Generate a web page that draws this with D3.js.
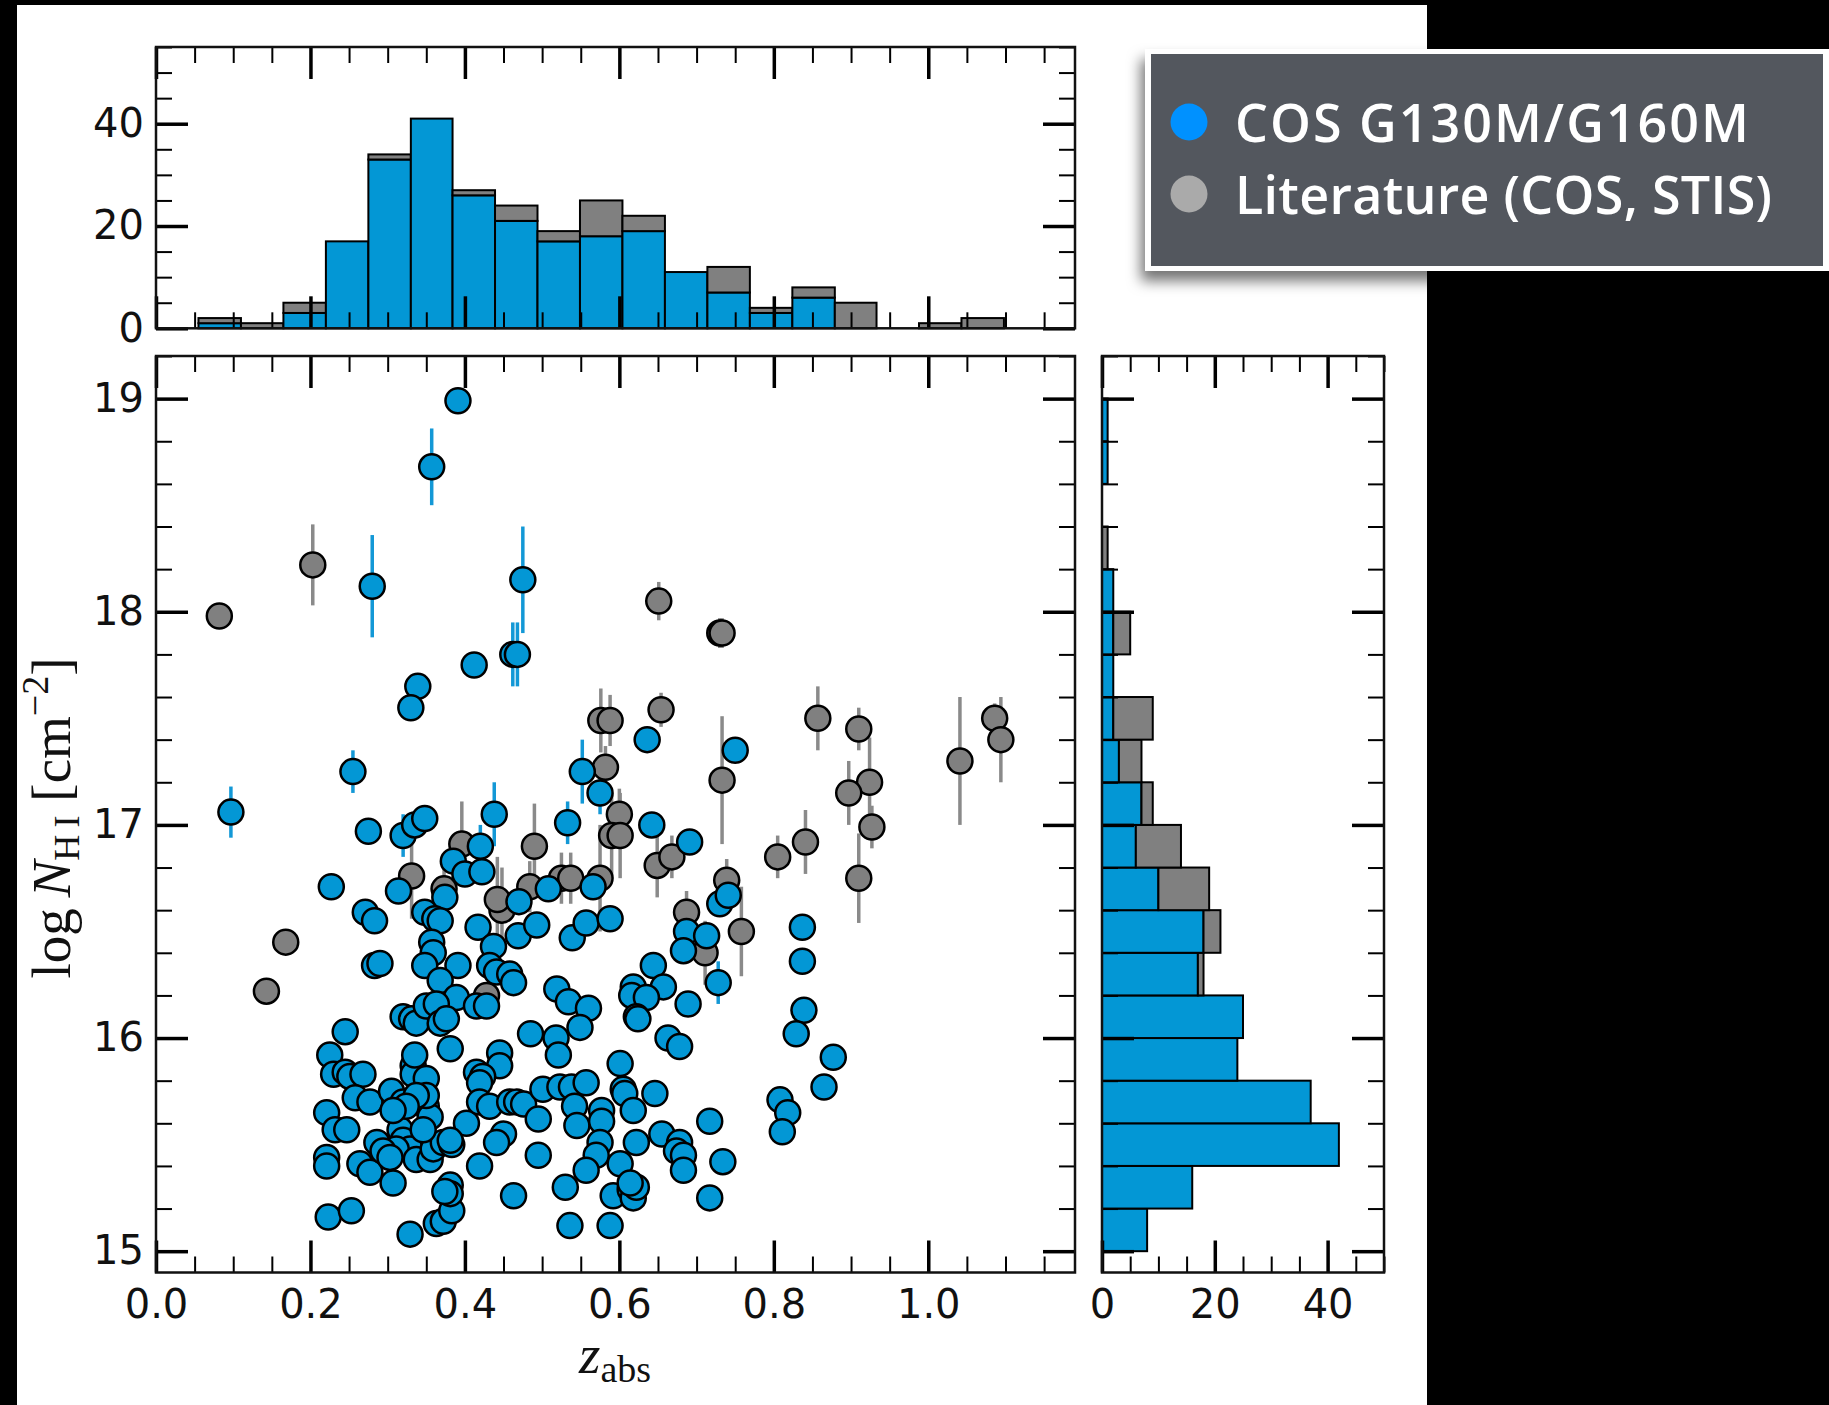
<!DOCTYPE html>
<html>
<head>
<meta charset="utf-8">
<script src="https://cdn.jsdelivr.net/npm/d3@7"></script>
<style>
  html, body { margin: 0; padding: 0; background: #000; }
  svg { display: block; }
</style>
</head>
<body>
<svg id="chart" width="1829" height="1405"></svg>
<script>
// ---------------- DATA ----------------
// redshift histogram (top panel)
const zBinEdges = [0.055,0.110,0.165,0.220,0.275,0.330,0.384,0.439,0.494,0.549,0.604,0.659,0.714,0.769,0.824,0.879,0.933,0.988,1.043,1.098];
const zHistCOS  = [1,0,3,17,33,41,26,21,17,18,19,11,7,3,6,0,0,0,0];
const zHistLit  = [1,1,2,0,1,0,1,3,2,7,3,0,5,1,2,5,0,1,2];

// column density histogram (right panel)
const nBinEdges = [15.0,15.2,15.4,15.6,15.8,16.0,16.2,16.4,16.6,16.8,17.0,17.2,17.4,17.6,17.8,18.0,18.2,18.4,18.6,18.8,19.0];
const nHistCOS  = [8,16,42,37,24,25,17,18,10,6,7,3,2,2,2,2,0,0,1,1];
const nHistLit  = [0,0,0,0,0,0,1,3,9,8,2,4,7,0,3,0,1,0,0,0];

// literature absorbers: [z_abs, logNHI, error]
const litPoints = [
  [0.082,17.98,0],[0.203,18.22,0.19],[0.651,18.05,0.09],[0.730,17.90,0.07],[0.733,17.90,0.07],
  [0.654,17.54,0.08],[0.576,17.49,0.15],[0.588,17.49,0.12],[0.582,17.27,0.10],[0.857,17.50,0.15],
  [0.910,17.45,0.10],[1.086,17.50,0.07],[1.094,17.40,0.20],[1.041,17.30,0.30],[0.733,17.21,0.30],
  [0.924,17.20,0.21],[0.927,16.99,0.10],[0.897,17.15,0.15],[0.910,16.75,0.21],[0.841,16.92,0.15],
  [0.805,16.85,0.10],[0.758,16.50,0.21],[0.649,16.81,0.15],[0.668,16.85,0.10],[0.525,16.75,0.12],
  [0.537,16.75,0.12],[0.575,16.75,0.25],[0.739,16.74,0.10],[0.687,16.59,0.10],[0.711,16.40,0.15],
  [0.484,16.71,0.12],[0.490,16.90,0.20],[0.396,16.91,0.20],[0.331,16.76,0.20],[0.373,16.70,0.10],
  [0.448,16.60,0.20],[0.442,16.65,0.20],[0.428,16.20,0],[0.143,16.22,0],[0.168,16.45,0],
  [0.600,17.05,0.12],[0.590,16.95,0.20],[0.601,16.95,0.20]
];

// COS G130M/G160M absorbers: [z_abs, logNHI, error]
const cosPoints = [
  [0.391,18.99,0],[0.357,18.68,0.18],[0.280,18.12,0.24],[0.475,18.15,0.25],[0.462,17.80,0.15],
  [0.468,17.80,0.15],[0.412,17.75,0],[0.339,17.65,0],[0.330,17.55,0],[0.255,17.25,0.10],
  [0.097,17.06,0.12],[0.636,17.40,0],[0.750,17.35,0],[0.552,17.25,0.15],[0.575,17.15,0.10],
  [0.438,17.05,0.15],[0.533,17.01,0.10],[0.642,17.00,0],[0.275,16.97,0],[0.320,16.95,0.10],
  [0.335,17.00,0],[0.348,17.03,0],[0.691,16.92,0],[0.420,16.90,0.10],[0.385,16.83,0],
  [0.400,16.77,0],[0.422,16.78,0],[0.227,16.71,0],[0.314,16.69,0],[0.374,16.66,0],
  [0.508,16.70,0],[0.566,16.71,0],[0.470,16.64,0],[0.271,16.59,0],[0.283,16.55,0],
  [0.348,16.59,0],[0.361,16.56,0],[0.368,16.55,0],[0.417,16.52,0],[0.437,16.43,0],
  [0.469,16.48,0],[0.493,16.53,0],[0.539,16.47,0],[0.557,16.54,0],[0.588,16.56,0],
  [0.730,16.63,0],[0.741,16.67,0],[0.687,16.50,0],[0.713,16.48,0],[0.683,16.41,0],
  [0.728,16.26,0.10],[0.837,16.52,0],[0.837,16.36,0],[0.839,16.13,0],[0.829,16.02,0],
  [0.877,15.91,0],[0.865,15.77,0],[0.808,15.71,0],[0.818,15.65,0],[0.811,15.56,0],
  [0.357,16.45,0],[0.359,16.40,0],[0.348,16.34,0],[0.283,16.34,0],[0.290,16.35,0],
  [0.391,16.34,0],[0.368,16.27,0],[0.432,16.34,0],[0.441,16.31,0],[0.458,16.30,0],
  [0.463,16.26,0],[0.389,16.19,0],[0.415,16.15,0],[0.428,16.15,0],[0.245,16.03,0],
  [0.320,16.10,0],[0.331,16.09,0],[0.337,16.07,0],[0.350,16.15,0],[0.363,16.16,0],
  [0.368,16.07,0],[0.376,16.09,0],
  [0.644,16.34,0],[0.618,16.24,0],[0.657,16.24,0],[0.519,16.23,0],[0.534,16.17,0],
  [0.560,16.14,0],[0.616,16.20,0],[0.635,16.19,0],[0.689,16.16,0],[0.622,16.10,0],
  [0.624,16.09,0],[0.549,16.05,0],[0.663,16.00,0],[0.485,16.02,0],[0.518,16.00,0],
  [0.225,15.92,0],[0.230,15.83,0],[0.245,15.84,0],[0.251,15.82,0],[0.268,15.83,0],
  [0.258,15.72,0],[0.277,15.70,0],[0.221,15.65,0],[0.232,15.57,0],[0.247,15.57,0],
  [0.221,15.44,0],[0.221,15.40,0],[0.264,15.41,0],[0.277,15.37,0],[0.307,15.32,0],
  [0.223,15.16,0],[0.253,15.19,0],[0.329,15.08,0],[0.363,15.13,0],[0.372,15.14,0],
  [0.383,15.19,0],[0.381,15.31,0],[0.381,15.27,0],[0.374,15.28,0],[0.419,15.40,0],
  [0.463,15.26,0],[0.402,15.60,0],[0.305,15.75,0],[0.320,15.70,0],[0.333,15.87,0],
  [0.333,15.83,0],[0.350,15.81,0],[0.335,15.92,0],[0.381,15.95,0],[0.445,15.93,0],
  [0.445,15.87,0],[0.415,15.84,0],[0.423,15.82,0],[0.419,15.79,0],[0.419,15.70,0],
  [0.432,15.68,0],[0.458,15.70,0],[0.350,15.68,0],[0.355,15.63,0],[0.350,15.73,0],
  [0.316,15.57,0],[0.320,15.52,0],[0.329,15.48,0],[0.311,15.48,0],[0.286,15.51,0],
  [0.294,15.47,0],[0.303,15.44,0],[0.337,15.43,0],[0.355,15.43,0],[0.359,15.48,0],
  [0.372,15.51,0],[0.383,15.50,0],[0.346,15.57,0],[0.381,15.52,0],[0.337,15.73,0],
  [0.324,15.68,0],[0.307,15.66,0],[0.450,15.55,0],[0.441,15.51,0],
  [0.521,15.92,0],[0.601,15.88,0],[0.678,15.96,0],[0.467,15.70,0],[0.476,15.69,0],
  [0.495,15.62,0],[0.501,15.76,0],[0.523,15.77,0],[0.538,15.77,0],[0.557,15.79,0],
  [0.542,15.68,0],[0.545,15.59,0],[0.577,15.66,0],[0.577,15.61,0],[0.605,15.76,0],
  [0.607,15.74,0],[0.618,15.66,0],[0.646,15.74,0],[0.717,15.61,0],[0.655,15.55,0],
  [0.678,15.51,0],[0.674,15.47,0],[0.683,15.45,0],[0.683,15.38,0],[0.734,15.42,0],
  [0.717,15.25,0],[0.622,15.51,0],[0.575,15.51,0],[0.570,15.45,0],[0.557,15.38,0],
  [0.601,15.41,0],[0.495,15.45,0],[0.530,15.30,0],[0.592,15.26,0],[0.614,15.29,0],
  [0.618,15.25,0],[0.622,15.30,0],[0.614,15.32,0],[0.536,15.12,0],[0.588,15.12,0]
];

const zMajorTicks = [0.0,0.2,0.4,0.6,0.8,1.0];
const nMajorTicks = [15,16,17,18,19];
const zCountTicks = [0,20,40];
const nCountTicks = [0,20,40];
const legendLabels = ["COS G130M/G160M","Literature (COS, STIS)"];

// ---------------- STYLE ----------------
const BLUE = "#0397d5", GRAY = "#808080";
const MAJ = 32, MIN = 16;

const svg = d3.select("#chart");
svg.append("rect").attr("width",1829).attr("height",1405).attr("fill","#000");
svg.append("rect").attr("x",17).attr("y",5).attr("width",1410).attr("height",1400).attr("fill","#fff");

// scales
const x = d3.scaleLinear().domain([0,1.19]).range([156,1075]);
const y = d3.scaleLinear().domain([14.9,19.2]).range([1272.5,356]);
const yTop = d3.scaleLinear().domain([0,55]).range([328.3,47]);
const xRight = d3.scaleLinear().domain([0,50]).range([1102,1384]);

function range(a,b,s){const o=[];for(let v=a;v<=b+1e-9;v+=s)o.push(+v.toFixed(4));return o;}
const zMinor = range(0,1.15,0.05).filter(v=>!zMajorTicks.some(m=>Math.abs(m-v)<1e-6));
const nMinor = range(15,19.2,0.2).filter(v=>!nMajorTicks.some(m=>Math.abs(m-v)<1e-6));
const cTopMinor = range(0,55,5).filter(v=>!zCountTicks.includes(v));
const cRightMinor = range(0,50,5).filter(v=>!nCountTicks.includes(v));

function styleAxis(g){
  g.select(".domain").remove();
  g.selectAll(".tick line").attr("stroke","#000");
  g.attr("font-family","DejaVu Sans").attr("font-size",40);
  g.selectAll(".tick text").attr("fill","#111");
}
function addTicks(axisFn, scale, major, minor, pos, opts){
  const lab = opts && opts.labels;
  const gMin = svg.append("g").attr("transform",pos)
    .call(axisFn(scale).tickValues(minor).tickSize(-MIN).tickFormat(""));
  styleAxis(gMin); gMin.selectAll(".tick line").attr("stroke-width",2);
  const ax = axisFn(scale).tickValues(major).tickSize(-MAJ)
    .tickPadding(opts && opts.pad !== undefined ? opts.pad : 12)
    .tickFormat(lab ? lab : "");
  const gMaj = svg.append("g").attr("transform",pos).call(ax);
  styleAxis(gMaj); gMaj.selectAll(".tick line").attr("stroke-width",3.5);
}

// ---------------- TOP HISTOGRAM ----------------
const topBars = svg.append("g");
zHistCOS.forEach((c,i)=>{
  const x0=x(zBinEdges[i]), x1=x(zBinEdges[i+1]);
  if(c>0) topBars.append("rect").attr("x",x0).attr("width",x1-x0)
    .attr("y",yTop(c)).attr("height",yTop(0)-yTop(c))
    .attr("fill",BLUE).attr("stroke","#000").attr("stroke-width",2);
  const g=zHistLit[i];
  if(g>0) topBars.append("rect").attr("x",x0).attr("width",x1-x0)
    .attr("y",yTop(c+g)).attr("height",yTop(c)-yTop(c+g))
    .attr("fill",GRAY).attr("stroke","#000").attr("stroke-width",2);
});

// ---------------- RIGHT HISTOGRAM ----------------
const rBars = svg.append("g");
nHistCOS.forEach((c,i)=>{
  const y0=y(nBinEdges[i]), y1=y(nBinEdges[i+1]);
  if(c>0) rBars.append("rect").attr("x",xRight(0)).attr("width",xRight(c)-xRight(0))
    .attr("y",y1).attr("height",y0-y1)
    .attr("fill",BLUE).attr("stroke","#000").attr("stroke-width",2);
  const g=nHistLit[i];
  if(g>0) rBars.append("rect").attr("x",xRight(c)).attr("width",xRight(c+g)-xRight(c))
    .attr("y",y1).attr("height",y0-y1)
    .attr("fill",GRAY).attr("stroke","#000").attr("stroke-width",2);
});

// ---------------- SCATTER ----------------
const sc = svg.append("g");
const allErr = litPoints.map(d=>({d,c:"#8a8a8a"})).concat(cosPoints.map(d=>({d,c:"#1398d6"})));
sc.selectAll("line.err").data(allErr.filter(e=>e.d[2]>0)).join("line")
  .attr("x1",e=>x(e.d[0])).attr("x2",e=>x(e.d[0]))
  .attr("y1",e=>y(e.d[1]-e.d[2])).attr("y2",e=>y(e.d[1]+e.d[2]))
  .attr("stroke",e=>e.c).attr("stroke-width",3.5);
sc.selectAll("circle.lit").data(litPoints).join("circle")
  .attr("cx",d=>x(d[0])).attr("cy",d=>y(d[1])).attr("r",12.5)
  .attr("fill",GRAY).attr("stroke","#000").attr("stroke-width",2.5);
sc.selectAll("circle.cos").data(cosPoints).join("circle")
  .attr("cx",d=>x(d[0])).attr("cy",d=>y(d[1])).attr("r",12.5)
  .attr("fill",BLUE).attr("stroke","#000").attr("stroke-width",2.5);

// ---------------- AXES / TICKS ----------------
const fmt1 = d3.format(".1f");
// top histogram
addTicks(d3.axisBottom, x, zMajorTicks, zMinor, `translate(0,${yTop(0)})`);
addTicks(d3.axisTop, x, zMajorTicks, zMinor, `translate(0,${yTop(55)})`);
addTicks(d3.axisLeft, yTop, zCountTicks, cTopMinor, `translate(${x(0)},0)`, {labels:d3.format("d"), pad:12});
addTicks(d3.axisRight, yTop, zCountTicks, cTopMinor, `translate(${x(1.19)},0)`);
// scatter
addTicks(d3.axisBottom, x, zMajorTicks, zMinor, `translate(0,${y(14.9)})`, {labels:fmt1, pad:17});
addTicks(d3.axisTop, x, zMajorTicks, zMinor, `translate(0,${y(19.2)})`);
addTicks(d3.axisLeft, y, nMajorTicks, nMinor, `translate(${x(0)},0)`, {labels:d3.format("d"), pad:12});
addTicks(d3.axisRight, y, nMajorTicks, nMinor, `translate(${x(1.19)},0)`);
// right histogram
addTicks(d3.axisBottom, xRight, nCountTicks, cRightMinor, `translate(0,${y(14.9)})`, {labels:d3.format("d"), pad:17});
addTicks(d3.axisTop, xRight, nCountTicks, cRightMinor, `translate(0,${y(19.2)})`);
addTicks(d3.axisLeft, y, nMajorTicks, nMinor, `translate(${xRight(0)},0)`);
addTicks(d3.axisRight, y, nMajorTicks, nMinor, `translate(${xRight(50)},0)`);

// frames
[[x(0),yTop(55),x(1.19)-x(0),yTop(0)-yTop(55)],
 [x(0),y(19.2),x(1.19)-x(0),y(14.9)-y(19.2)],
 [xRight(0),y(19.2),xRight(50)-xRight(0),y(14.9)-y(19.2)]].forEach(r=>{
  svg.append("rect").attr("x",r[0]).attr("y",r[1]).attr("width",r[2]).attr("height",r[3])
    .attr("fill","none").attr("stroke","#111").attr("stroke-width",2.5);
});

// axis labels
const xl = svg.append("text").attr("x",615).attr("y",1373).attr("text-anchor","middle")
  .attr("font-family","Liberation Serif").attr("font-size",55).attr("fill","#111");
xl.append("tspan").attr("font-style","italic").text("z");
xl.append("tspan").attr("font-size",38).attr("dy",9).text("abs");

const yl = svg.append("text").attr("transform","translate(70,818) rotate(-90)").attr("text-anchor","middle")
  .attr("font-family","Liberation Serif").attr("font-size",55).attr("fill","#111");
yl.append("tspan").text("log\u2009");
yl.append("tspan").attr("font-style","italic").text("N");
yl.append("tspan").attr("font-size",36).attr("dy",9).text("H\u2009I");
yl.append("tspan").attr("dy",-9).text(" [cm");
yl.append("tspan").attr("font-size",38).attr("dy",-22).text("\u22122");
yl.append("tspan").attr("dy",22).text("]");

// ---------------- LEGEND ----------------
const defs = svg.append("defs");
const f = defs.append("filter").attr("id","shadow").attr("x","-10%").attr("y","-10%").attr("width","120%").attr("height","140%");
f.append("feDropShadow").attr("dx",-4).attr("dy",10).attr("stdDeviation",7).attr("flood-color","#000").attr("flood-opacity",0.55);
const lg = svg.append("g");
lg.append("rect").attr("x",1145).attr("y",49).attr("width",684).attr("height",222).attr("fill","#fff").attr("filter","url(#shadow)");
lg.append("rect").attr("x",1151).attr("y",54).attr("width",672).attr("height",212).attr("fill","#53575e");
const legendColors = ["#0091ff","#aaaaaa"];
const legendWidths = [514,537];
legendLabels.forEach((t,i)=>{
  lg.append("circle").attr("cx",1189).attr("cy",122+i*72).attr("r",18.5).attr("fill",legendColors[i]);
  lg.append("text").attr("x",1235).attr("y",141.5+i*72).attr("font-family","Open Sans").attr("font-weight",600)
    .attr("font-size",52).attr("textLength",legendWidths[i]).attr("lengthAdjust","spacing")
    .attr("fill","#fff").text(t);
});
</script>
</body>
</html>
